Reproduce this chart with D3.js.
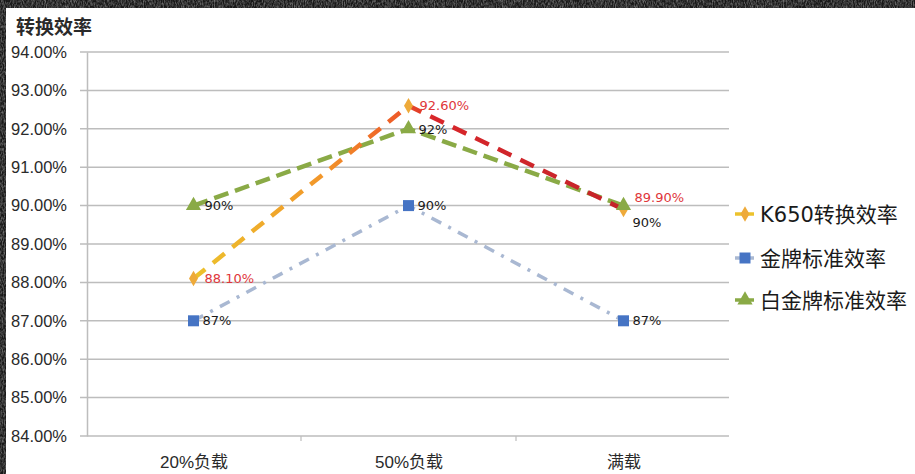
<!DOCTYPE html>
<html>
<head>
<meta charset="utf-8">
<script src="https://cdn.jsdelivr.net/npm/d3@7"></script>
<style>
  html, body { margin: 0; padding: 0; background: #1c1c1c; }
  svg { display: block; }
</style>
</head>
<body>
<script>
// Load levels and measured conversion efficiency (%)
const categories = ["20%负载", "50%负载", "满载"];
const k650 = [88.1, 92.6, 89.9];
const goldStd = [87, 90, 87];
const platinumStd = [90, 92, 90];
const yTicks = [84, 85, 86, 87, 88, 89, 90, 91, 92, 93, 94];
const seriesNames = ["K650转换效率", "金牌标准效率", "白金牌标准效率"];
const axisTitle = "转换效率";

const W = 915, H = 474;
const svg = d3.select("body").append("svg").attr("width", W).attr("height", H);

// textured dark frame
const defs = svg.append("defs");
const f = defs.append("filter").attr("id", "grain").attr("x", 0).attr("y", 0).attr("width", "100%").attr("height", "100%");
f.append("feTurbulence").attr("type", "fractalNoise").attr("baseFrequency", "0.9 0.35").attr("numOctaves", 2).attr("seed", 4);
f.append("feColorMatrix").attr("type", "matrix")
  .attr("values", "0 0 0 0 0.6  0 0 0 0 0.6  0 0 0 0 0.6  0 0 0 1.2 -0.4");
svg.append("rect").attr("width", W).attr("height", H).attr("fill", "#181818");
svg.append("rect").attr("width", W).attr("height", H).attr("filter", "url(#grain)").attr("opacity", 0.8);

// white chart card
svg.append("rect").attr("x", 6).attr("y", 8).attr("width", W - 6).attr("height", H - 8).attr("fill", "#ffffff");

const x = d3.scalePoint().domain(categories).range([86, 731]).padding(0.5);
const y = d3.scaleLinear().domain([84, 94]).range([436, 52]);

const cjk = "'Liberation Sans', Arial, 'Noto Sans CJK SC', sans-serif";

// gridlines
svg.append("g").selectAll("line").data(yTicks).join("line")
  .attr("x1", 80).attr("x2", 729)
  .attr("y1", d => y(d)).attr("y2", d => y(d))
  .attr("stroke", "#bdbdbd").attr("stroke-width", 1.5);

// y axis
const yAxis = d3.axisLeft(y).tickValues(yTicks).tickSize(0).tickPadding(20)
  .tickFormat(d => d.toFixed(2) + "%");
const gy = svg.append("g").attr("transform", "translate(87,0)").call(yAxis);
gy.select(".domain").attr("stroke", "#bdbdbd").attr("stroke-width", 1.5);
gy.selectAll("text").attr("font-family", cjk).attr("font-size", 16.5).attr("fill", "#2a2a2a");

// x axis
const xAxis = d3.axisBottom(x).tickSize(0).tickPadding(20);
const gx = svg.append("g").attr("transform", "translate(0,436)").call(xAxis);
gx.select(".domain").remove();
gx.selectAll("text").attr("font-family", cjk).attr("font-size", 17).attr("fill", "#2a2a2a");
// category separators
svg.append("g").selectAll("line").data(categories.slice(1)).join("line")
  .attr("x1", d => x(d) - x.step() / 2).attr("x2", d => x(d) - x.step() / 2)
  .attr("y1", 436).attr("y2", 441)
  .attr("stroke", "#bdbdbd").attr("stroke-width", 1.2);

// axis title
svg.append("text").attr("x", 16).attr("y", 34)
  .attr("font-family", "'Noto Sans CJK SC', sans-serif").attr("font-weight", "bold")
  .attr("font-size", 19).attr("fill", "#2a2a2a").text(axisTitle);

// K650 line colour shifts from amber to red across the load range
const grad = defs.append("linearGradient").attr("id", "k650grad")
  .attr("gradientUnits", "userSpaceOnUse")
  .attr("x1", x(categories[0])).attr("x2", x(categories[2])).attr("y1", 0).attr("y2", 0);
grad.append("stop").attr("offset", 0).attr("stop-color", "#ecc22c");
grad.append("stop").attr("offset", 0.3).attr("stop-color", "#f2962a");
grad.append("stop").attr("offset", 0.48).attr("stop-color", "#ee5a28");
grad.append("stop").attr("offset", 0.56).attr("stop-color", "#d8262a");
grad.append("stop").attr("offset", 1).attr("stop-color", "#c4242a");

const line = d3.line().x((d, i) => x(categories[i])).y(d => y(d));

// 金牌 (dash-dot)
svg.append("path").datum(goldStd).attr("d", line).attr("fill", "none")
  .attr("stroke", "#a9b8d2").attr("stroke-width", 3.5)
  .attr("stroke-dasharray", "11,8,3,8");
// 白金牌 (dashed)
svg.append("path").datum(platinumStd).attr("d", line).attr("fill", "none")
  .attr("stroke", "#8aaa46").attr("stroke-width", 4.5)
  .attr("stroke-dasharray", "15,7");
// K650 (dashed)
svg.append("path").datum(k650).attr("d", line).attr("fill", "none")
  .attr("stroke", "url(#k650grad)").attr("stroke-width", 4.5)
  .attr("stroke-dasharray", "15,10");

// markers
const diamond = d3.symbol().type(d3.symbolDiamond).size(70);
const square = d3.symbol().type(d3.symbolSquare).size(121);
const tri = d3.symbol().type(d3.symbolTriangle).size(100);

svg.append("g").selectAll("path").data(k650).join("path")
  .attr("d", diamond).attr("transform", (d, i) => `translate(${x(categories[i])},${y(d)})`)
  .attr("fill", "#eeaa3a");
svg.append("g").selectAll("path").data(goldStd).join("path")
  .attr("d", square).attr("transform", (d, i) => `translate(${x(categories[i])},${y(d)})`)
  .attr("fill", "#4674c4");
svg.append("g").selectAll("path").data(platinumStd).join("path")
  .attr("d", tri).attr("transform", (d, i) => `translate(${x(categories[i])},${y(d)})`)
  .attr("fill", "#8aaa46");

// data labels
const lblFont = "'DejaVu Sans', sans-serif";
const k650Dy = [0, 0, -12];
const platDy = [0, 1, 17];
const platDx = [11, 10, 9];
svg.append("g").selectAll("text").data(k650).join("text")
  .attr("x", (d, i) => x(categories[i]) + 11)
  .attr("y", (d, i) => y(d) + k650Dy[i])
  .attr("dy", "0.35em")
  .attr("font-family", lblFont).attr("font-size", 13).attr("fill", "#e0363a")
  .text(d => d.toFixed(2) + "%");
svg.append("g").selectAll("text").data(goldStd).join("text")
  .attr("x", (d, i) => x(categories[i]) + 9)
  .attr("y", d => y(d))
  .attr("dy", "0.35em")
  .attr("font-family", lblFont).attr("font-size", 13).attr("fill", "#1a1a1a")
  .text(d => d + "%");
svg.append("g").selectAll("text").data(platinumStd).join("text")
  .attr("x", (d, i) => x(categories[i]) + platDx[i])
  .attr("y", (d, i) => y(d) + platDy[i])
  .attr("dy", "0.35em")
  .attr("font-family", lblFont).attr("font-size", 13).attr("fill", "#1a1a1a")
  .text(d => d + "%");

// legend
const legendY = [214, 258, 300];
const lg = svg.append("g");
const legStroke = ["#ecc22c", "#a9b8d2", "#8aaa46"];
const legFill = ["#eeaa3a", "#4674c4", "#8aaa46"];
const legSym = [diamond, square, tri];
seriesNames.forEach((name, i) => {
  lg.append("line").attr("x1", 735).attr("x2", 754)
    .attr("y1", legendY[i]).attr("y2", legendY[i])
    .attr("stroke", legStroke[i]).attr("stroke-width", 3.5);
  lg.append("path").attr("d", legSym[i]).attr("transform", `translate(745,${legendY[i]})`)
    .attr("fill", legFill[i]);
  lg.append("text").attr("x", 760).attr("y", legendY[i]).attr("dy", "0.36em")
    .attr("font-family", "'DejaVu Sans', 'Noto Sans CJK SC', sans-serif")
    .attr("font-size", 21).attr("fill", "#1a1a1a").text(name);
});
</script>
</body>
</html>
